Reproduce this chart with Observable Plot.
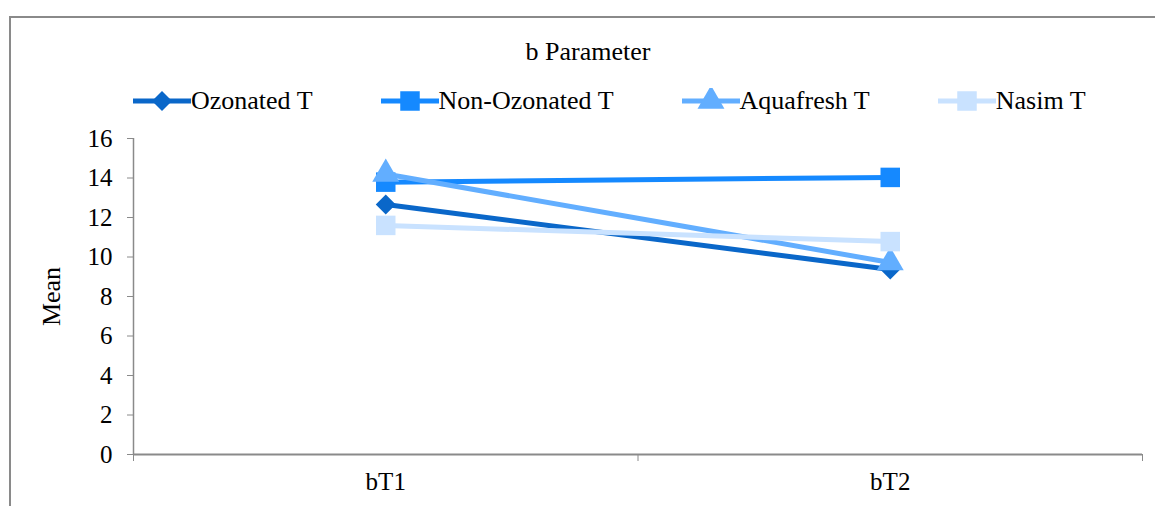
<!DOCTYPE html>
<html>
<head>
<meta charset="utf-8">
<script src="https://cdn.jsdelivr.net/npm/d3@7"></script>
<script src="https://cdn.jsdelivr.net/npm/@observablehq/plot@0.6"></script>
<style>
  html, body { margin: 0; padding: 0; background: #fff; }
  #root { position: relative; width: 1155px; height: 506px; overflow: hidden; font-family: "Liberation Serif", "Times New Roman", serif; }
  #frame { position: absolute; left: 9px; top: 16px; width: 1200px; height: 600px; border-left: 2px solid #8a8a8a; border-top: 2px solid #8a8a8a; }
  #title { position: absolute; top: 37px; left: 0; width: 1176px; text-align: center; font-size: 26px; line-height: 30px; color: #000; }
  #legend { position: absolute; top: 86px; left: 133px; display: flex; align-items: center; font-size: 26px; line-height: 30px; color: #000; }
  .item { display: flex; align-items: center; margin-right: 68px; white-space: nowrap; }
  .item svg { display: block; }
  #chart { position: absolute; top: 118px; left: 0; }
</style>
</head>
<body>
<div id="root">
  <div id="frame"></div>
  <div id="title">b Parameter</div>
  <div id="legend"></div>
  <div id="chart"></div>
</div>
<script>
const categories = ["bT1", "bT2"];
const seriesNames = ["Ozonated T", "Non-Ozonated T", "Aquafresh T", "Nasim T"];
const ozonated = [12.66, 9.37];
const nonOzonated = [13.79, 14.03];
const aquafresh = [14.2, 9.72];
const nasim = [11.6, 10.78];
const yTicks = [0, 2, 4, 6, 8, 10, 12, 14, 16];

const seriesValues = [ozonated, nonOzonated, aquafresh, nasim];
const colors = ["#0a67c9", "#1589ff", "#62aeff", "#c9e2ff"];
const symbols = ["square", "square", "triangle", "square"];
const rotations = [45, 0, 0, 0];
const radii = [8, 11, 10, 11];

const data = [];
seriesNames.forEach((s, si) => {
  categories.forEach((c, ci) => {
    data.push({series: s, idx: ci + 0.5, category: c, value: seriesValues[si][ci]});
  });
});

const marks = [
  Plot.axisY({ticks: yTicks, tickSize: 6, tickPadding: 15, stroke: "#8a8a8a", fill: "#000", fontSize: 25, label: null}),
  Plot.axisY({ticks: [], label: "Mean", labelAnchor: "center", labelArrow: false, labelOffset: 92, fontSize: 26, fill: "#000"}),
  Plot.axisX({ticks: [0, 1, 2], tickSize: 7, tickFormat: () => "", stroke: "#8a8a8a", label: null}),
  Plot.axisX({ticks: categories.map((c, i) => i + 0.5), tickSize: 0, tickPadding: 18,
    tickFormat: d => categories[Math.floor(d)], fill: "#000", fontSize: 25, label: null}),
  Plot.ruleX([0], {y1: 0, y2: 16, stroke: "#8a8a8a", strokeWidth: 1.5}),
  Plot.ruleY([0], {stroke: "#8a8a8a", strokeWidth: 2})
];
seriesNames.forEach((s, si) => {
  const sd = data.filter(d => d.series === s);
  marks.push(Plot.line(sd, {x: "idx", y: "value", stroke: colors[si], strokeWidth: 5}));
  marks.push(Plot.dot(sd, {x: "idx", y: "value", symbol: () => symbols[si], fill: colors[si], stroke: "none",
    r: radii[si], rotate: rotations[si]}));
});

const chart = Plot.plot({
  width: 1155,
  height: 388,
  marginTop: 20,
  marginBottom: 52,
  marginLeft: 133,
  marginRight: 13,
  style: {fontFamily: "Liberation Serif, Times New Roman, serif", fontSize: "25px", background: "transparent", overflow: "visible"},
  x: {domain: [0, 2]},
  y: {domain: [0, 16]},
  symbol: {type: "identity"},
  marks
});
document.getElementById("chart").appendChild(chart);

// Legend
const legend = document.getElementById("legend");
seriesNames.forEach((s, si) => {
  const item = document.createElement("div");
  item.className = "item";
  const svg = d3.create("svg").attr("width", 58).attr("height", 26);
  svg.append("line").attr("x1", 0).attr("x2", 58).attr("y1", 13).attr("y2", 13)
    .attr("stroke", colors[si]).attr("stroke-width", 5);
  const symType = symbols[si] === "triangle" ? d3.symbolTriangle : d3.symbolSquare;
  svg.append("path")
    .attr("d", d3.symbol(symType, Math.PI * radii[si] * radii[si])())
    .attr("transform", `translate(29,13) rotate(${rotations[si]})`)
    .attr("fill", colors[si]);
  item.appendChild(svg.node());
  const label = document.createElement("span");
  label.textContent = s;
  item.appendChild(label);
  legend.appendChild(item);
});
</script>
</body>
</html>
